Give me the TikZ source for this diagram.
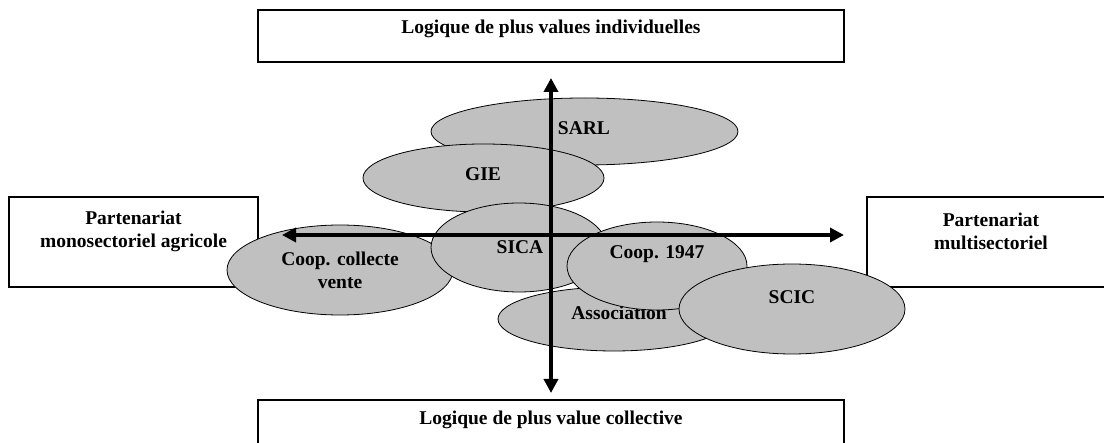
\documentclass[tikz,border=0pt]{standalone}
\usepackage{fontspec}
\setmainfont{Liberation Serif}
\usetikzlibrary{shapes.geometric,arrows.meta}
\definecolor{ovalgray}{RGB}{192,192,192}
\tikzset{
  frame/.style={draw=black, line width=2pt, fill=white, inner sep=0pt},
  oval/.style={ellipse, draw=black, line width=0.8pt, fill=ovalgray, inner sep=0pt},
  lbl/.style={font=\bfseries\fontsize{19.5}{23}\selectfont, align=center, inner sep=0pt},
  axis/.style={line width=4pt, {Triangle[length=14pt,width=14pt]}-{Triangle[length=14pt,width=14pt]}}
}
\begin{document}
\begin{tikzpicture}[x=1pt,y=-1pt]
\clip (0,0) rectangle (1104,443);
\fill[white] (0,0) rectangle (1104,443);

% frames
\node[frame, minimum width=586pt, minimum height=52pt] (topbox) at (551,36) {};
\node[lbl] (toptxt) at (551,29) {Logique de plus values individuelles};
\node[frame, minimum width=586pt, minimum height=60pt] (botbox) at (551,430) {};
\node[lbl] (bottxt) at (551,420) {Logique de plus value collective};
\node[frame, minimum width=249pt, minimum height=90pt] (leftbox) at (133.5,242) {};
\node[lbl] (lefttxt) at (133.5,231.5) {Partenariat\\monosectoriel agricole};
\node[frame, minimum width=248pt, minimum height=90pt] (rightbox) at (991,242) {};
\node[lbl] (righttxt) at (991,231.5) {Partenariat\\multisectoriel};

% legal forms
\node[oval, minimum width=307pt, minimum height=67pt] (sarl) at (584.5,131.5) {};
\node[lbl] (sarltxt) at (584,128) {SARL};
\node[oval, minimum width=241pt, minimum height=68pt] (gie) at (483.5,178) {};
\node[lbl] (gietxt) at (483,174) {GIE};
\node[oval, minimum width=226pt, minimum height=90pt] (ccv) at (340,270) {};
\node[lbl] (ccvtxt) at (340,270) {Coop. collecte\\vente};
\node[oval, minimum width=176pt, minimum height=89pt] (sica) at (519,247.5) {};
\node[lbl] (sicatxt) at (520,247) {SICA};
\node[oval, minimum width=232pt, minimum height=64pt] (assoc) at (614,319) {};
\node[lbl] (assoctxt) at (619,313) {Association};
\node[oval, minimum width=180pt, minimum height=88pt] (coop) at (657,266) {};
\node[lbl] (cooptxt) at (657,254) {Coop. 1947};
\node[oval, minimum width=226pt, minimum height=90pt] (scic) at (792,309) {};
\node[lbl] (scictxt) at (792,297) {SCIC};

% axes
\coordinate (north) at (551,78);
\coordinate (south) at (551,393);
\coordinate (west) at (282,235);
\coordinate (east) at (844,235);
\draw[axis] (south) -- (north);
\draw[axis] (west) -- (east);
\end{tikzpicture}
\end{document}
